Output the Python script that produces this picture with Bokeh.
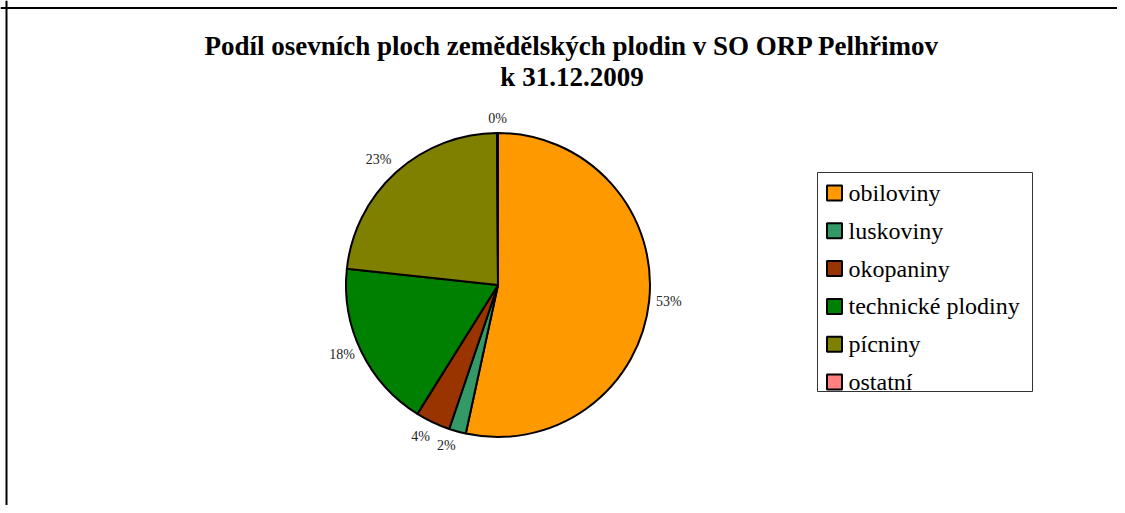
import numpy as np
from bokeh.plotting import figure
from bokeh.models import Range1d, Span
from bokeh.core.properties import value
from bokeh.embed import file_html
from bokeh.resources import INLINE

categories = ["obiloviny", "luskoviny", "okopaniny", "technické plodiny", "pícniny", "ostatní"]
shares = [53.4, 1.8, 3.7, 17.8, 23.2, 0.1]
colors = ["#FF9900", "#339966", "#993300", "#008000", "#808000", "#FF8080"]
title_lines = ["Podíl osevních ploch zemědělských plodin v SO ORP Pelhřimov", "k 31.12.2009"]

W, H = 1117, 505
p = figure(width=W, height=H, output_backend="svg", toolbar_location=None,
           x_range=Range1d(0, W), y_range=Range1d(0, H), min_border=0,
           outline_line_color=None, tools="")
p.axis.visible = False
p.grid.visible = False
p.background_fill_color = "white"
p.border_fill_color = "white"

# chart area border (top and left visible)
p.add_layout(Span(location=H - 7.5, dimension="width", line_color="black", line_width=2))
p.add_layout(Span(location=6, dimension="height", line_color="black", line_width=2))

# title
FONT = value("Liberation Serif")
p.text(x=[571.5, 571.5], y=[H - 45, H - 76], text=title_lines, text_font=FONT,
       text_font_size="27px", text_font_style="bold", text_align="center",
       text_baseline="middle", text_color="black")

# pie
cx, cy, r = 497.5, H - 284.5, 152
vals = np.array(shares, dtype=float)
frac = vals / vals.sum()
cum = np.concatenate([[0], np.cumsum(frac)])
start = np.pi / 2 - 2 * np.pi * cum[:-1]
end = np.pi / 2 - 2 * np.pi * cum[1:]
p.wedge(x=cx, y=cy, radius=r, start_angle=start, end_angle=end, direction="clock",
        fill_color=colors, line_color="black", line_width=2)

# percentage labels
mid = (cum[:-1] + cum[1:]) / 2
theta = np.pi / 2 - 2 * np.pi * mid
dx, dy = np.cos(theta), np.sin(theta)
lr = r + 7
lx = cx + lr * dx
ly = cy + lr * dy
aligns = ["left" if a > 0.2 else ("right" if a < -0.2 else "center") for a in dx]
bases = ["bottom" if b > 0.5 else ("top" if b < -0.5 else "middle") for b in dy]
labels = [f"{round(v)}%" for v in vals / vals.sum() * 100]
for x0, y0, t, al, bl in zip(lx, ly, labels, aligns, bases):
    p.text(x=[x0], y=[y0], text=[t], text_font=FONT, text_font_size="14px",
           text_align=al, text_baseline=bl, text_color="#222222")

# legend
p.quad(left=[817], right=[1032], top=[H - 172], bottom=[H - 391], fill_color="white",
       line_color="#333333", line_width=1)
n = len(categories)
ys = (H - 192.5) - 37.8 * np.arange(n)
p.rect(x=[834] * n, y=ys, width=15, height=15, fill_color=colors,
       line_color="black", line_width=2)
p.text(x=[848] * n, y=ys, text=categories, text_font=FONT, text_font_size="24px",
       text_align="left", text_baseline="middle", text_color="black")

open("out.html", "w").write(file_html(p, INLINE))
